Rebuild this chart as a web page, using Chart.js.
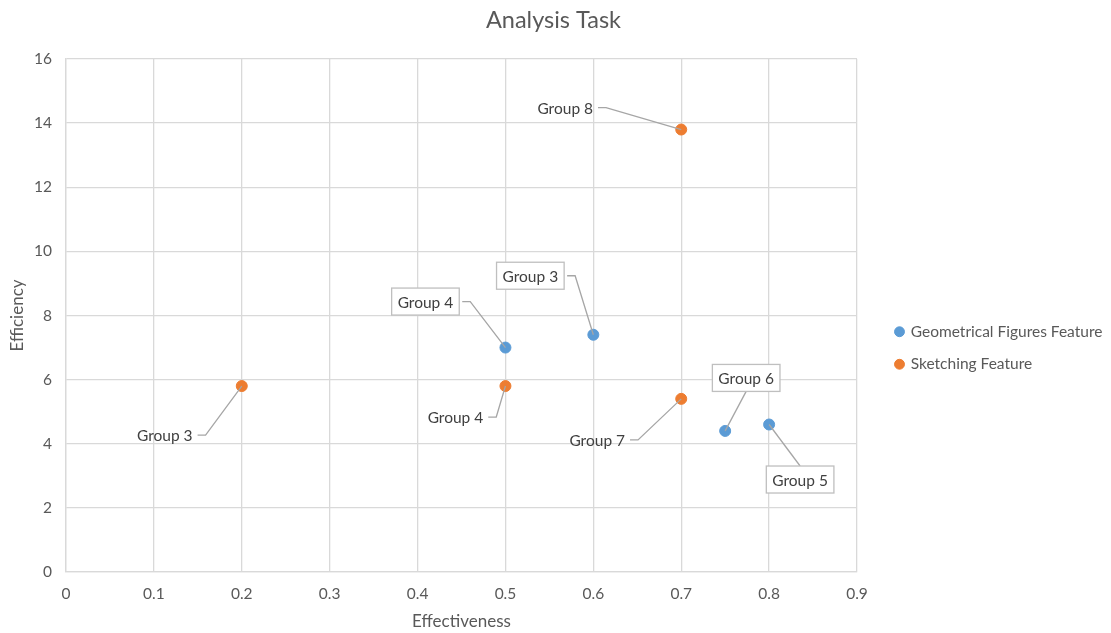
<!DOCTYPE html>
<html>
<head>
<meta charset="utf-8">
<script src="https://cdn.jsdelivr.net/npm/chart.js@4/dist/chart.umd.min.js"></script>
<style>
  html, body { margin: 0; padding: 0; background: #ffffff; }
  #wrap { width: 1111px; height: 633px; }
</style>
</head>
<body>
<div id="wrap"><canvas id="c" width="1111" height="633"></canvas></div>
<script>
// Effectiveness (x) vs efficiency (y) per group
const geoX = [0.5, 0.6, 0.75, 0.8];
const geoY = [7.0, 7.4, 4.4, 4.6];
const geoLabels = ['Group 4', 'Group 3', 'Group 6', 'Group 5'];

const sketchX = [0.2, 0.5, 0.7, 0.7];
const sketchY = [5.8, 5.8, 5.4, 13.8];
const sketchLabels = ['Group 3', 'Group 4', 'Group 7', 'Group 8'];

const seriesNames = ['Geometrical Figures Feature', 'Sketching Feature'];

// Where each callout sits, relative to its point (pixels)
const geoLabelOffsets = [[-80, -46], [-63, -59], [21, -53], [31, 55]];
const sketchLabelOffsets = [[-77, 49], [-50, 31], [-84, 41], [-116, -22]];

const FONT = 'Lato, "Open Sans", sans-serif';
const TEXT = '#595959';

function toPoints(xs, ys) { return xs.map((x, i) => ({ x: x, y: ys[i] })); }

// Excel-style callouts: text (optionally boxed) joined to the point by a leader line
const calloutPlugin = {
  id: 'callouts',
  afterDatasetsDraw(chart) {
    const ctx = chart.ctx;
    ctx.save();
    ctx.font = '15.5px ' + FONT;
    chart.data.datasets.forEach((ds, di) => {
      if (!ds.calloutText) return;
      const meta = chart.getDatasetMeta(di);
      meta.data.forEach((el, i) => {
        const text = ds.calloutText[i];
        const [dx, dy] = ds.calloutOffsets[i];
        const px = el.x, py = el.y;
        const cx = px + dx, cy = py + dy;
        const tw = ctx.measureText(text).width;
        const padX = ds.calloutBoxed ? 6 : 2;
        const bw = tw + padX * 2, bh = 27;
        const left = cx - bw / 2, right = cx + bw / 2;
        const top = cy - bh / 2, bottom = cy + bh / 2;

        // leader line
        ctx.strokeStyle = '#a6a6a6';
        ctx.lineWidth = 1.3;
        ctx.beginPath();
        if (px > right + 4) {
          ctx.moveTo(right + 3, cy);
          ctx.lineTo(right + 11, cy);
          ctx.lineTo(px, py);
        } else if (px < left - 4) {
          ctx.moveTo(left - 3, cy);
          ctx.lineTo(left - 11, cy);
          ctx.lineTo(px, py);
        } else if (py > bottom) {
          ctx.moveTo(cx, bottom);
          ctx.lineTo(px, py);
        } else {
          ctx.moveTo(cx, top);
          ctx.lineTo(px, py);
        }
        ctx.stroke();

        if (ds.calloutBoxed) {
          ctx.fillStyle = '#ffffff';
          ctx.fillRect(left, top, bw, bh);
          ctx.strokeStyle = '#bfbfbf';
          ctx.lineWidth = 1.3;
          ctx.strokeRect(left, top, bw, bh);
        }
        ctx.fillStyle = '#404040';
        ctx.textAlign = 'center';
        ctx.textBaseline = 'middle';
        ctx.fillText(text, cx, cy + 1);
      });
    });
    ctx.restore();
  }
};

// Fixed-width legend column with some breathing room between plot and legend
const LEGEND_WIDTH = 250;
const LEGEND_GAP = 22;
const legendSpacing = {
  id: 'legendSpacing',
  beforeLayout(chart) {
    const lg = chart.legend;
    if (lg && !lg.__fixedWidth) {
      const fit = lg.fit.bind(lg);
      lg.fit = function () { fit(); this.width = LEGEND_WIDTH; };
      lg.__fixedWidth = true;
    }
  },
  afterLayout(chart) {
    if (chart.legend) chart.legend.left += LEGEND_GAP;
  }
};

new Chart(document.getElementById('c'), {
  type: 'scatter',
  data: {
    datasets: [
      {
        label: seriesNames[0],
        data: toPoints(geoX, geoY),
        backgroundColor: '#5b9bd5',
        borderColor: '#5b9bd5',
        pointRadius: 5.5,
        pointHoverRadius: 5.5,
        calloutText: geoLabels,
        calloutOffsets: geoLabelOffsets,
        calloutBoxed: true
      },
      {
        label: seriesNames[1],
        data: toPoints(sketchX, sketchY),
        backgroundColor: '#ed7d31',
        borderColor: '#ed7d31',
        pointRadius: 5.5,
        pointHoverRadius: 5.5,
        calloutText: sketchLabels,
        calloutOffsets: sketchLabelOffsets,
        calloutBoxed: false
      }
    ]
  },
  plugins: [legendSpacing, calloutPlugin],
  options: {
    responsive: false,
    animation: false,
    layout: { padding: { left: 0, right: 4, top: 0, bottom: 0 } },
    plugins: {
      title: {
        display: true,
        text: 'Analysis Task',
        color: TEXT,
        font: { family: FONT, size: 23.5, weight: 'normal' },
        padding: { top: 6, bottom: 24.8 }
      },
      legend: {
        position: 'right',
        title: { display: true, text: ' ', font: { family: FONT, size: 15 }, padding: 22.5 },
        labels: {
          usePointStyle: true,
          pointStyle: 'circle',
          boxWidth: 7,
          boxHeight: 7,
          padding: 17,
          color: TEXT,
          font: { family: FONT, size: 15.5 }
        }
      },
      tooltip: { enabled: false }
    },
    scales: {
      x: {
        type: 'linear',
        min: 0,
        max: 0.9,
        ticks: { stepSize: 0.1, color: TEXT, font: { family: FONT, size: 15.5 }, padding: 13 },
        grid: { color: '#d9d9d9', lineWidth: 1.3, drawTicks: false },
        border: { color: '#d9d9d9', width: 1.3 },
        title: { display: true, text: 'Effectiveness', color: TEXT, font: { family: FONT, size: 17 }, padding: { top: 0, bottom: 1.5 } },
        afterFit(scale) { scale.height = 61; }
      },
      y: {
        type: 'linear',
        min: 0,
        max: 16,
        ticks: { stepSize: 2, color: TEXT, font: { family: FONT, size: 15.5 }, padding: 14 },
        grid: { color: '#d9d9d9', lineWidth: 1.3, drawTicks: false },
        border: { color: '#d9d9d9', width: 1.3 },
        title: { display: true, text: 'Efficiency', color: TEXT, font: { family: FONT, size: 17 }, padding: { top: 7.8, bottom: 0 } },
        afterFit(scale) { scale.width = 66; }
      }
    }
  }
});
</script>
</body>
</html>
